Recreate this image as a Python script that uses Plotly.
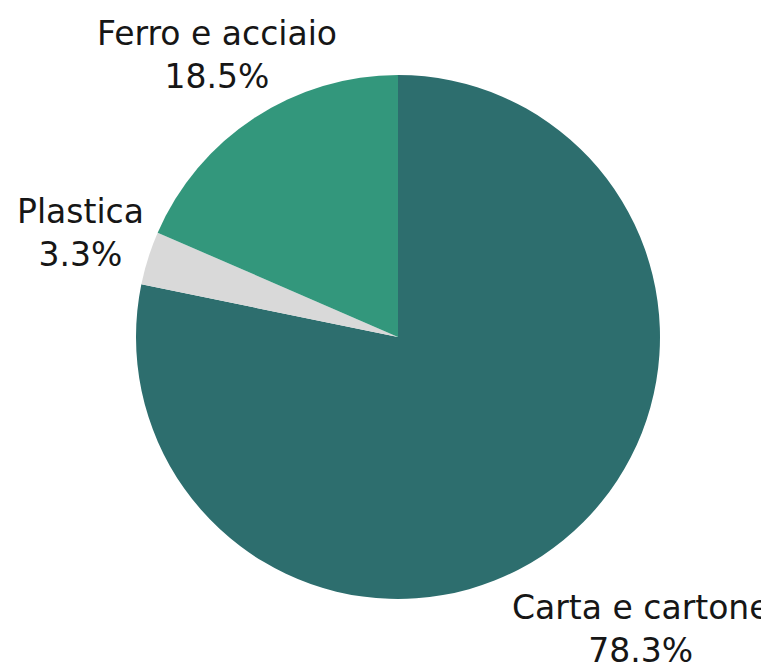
import math
import plotly.graph_objects as go

categories = ["Carta e cartone", "Plastica", "Ferro e acciaio"]
values = [78.3, 3.3, 18.5]
colors = ["#2D6E6E", "#D9D9D9", "#33977C"]

W, H = 769, 664
CX, CY, R = 398, 336, 262          # intended pie centre / radius in pixels
label_dist = [1.455, 1.28, 1.275]  # label distance from centre, in radii
OFF_X, OFF_Y = -6, -10             # small pixel nudge for labels
FONT = dict(size=33, color="#161616", family="DejaVu Sans, sans-serif")

dx, dy = 8, 7  # compensation for plotly's placement
fig = go.Figure(go.Pie(
    labels=categories,
    values=values,
    sort=False,
    direction="clockwise",
    rotation=0,
    marker=dict(colors=colors, line=dict(width=0)),
    textinfo="none",
    hoverinfo="label+value",
    showlegend=False,
    automargin=False,
    domain=dict(x=[(CX - R - dx) / W, (CX + R - dx) / W],
                y=[(H - CY - R + dy) / H, (H - CY + R + dy) / H]),
))

total = sum(values)
cum = 0.0
for lab, v, f in zip(categories, values, label_dist):
    mid = (cum + v / 2) / total * 2 * math.pi
    cum += v
    px = CX + f * R * math.sin(mid) + OFF_X
    py = CY - f * R * math.cos(mid) + OFF_Y
    fig.add_annotation(
        x=px / W, y=1 - py / H, xref="paper", yref="paper",
        text=f"{lab}<br>{v:.1f}%", showarrow=False,
        xanchor="center", yanchor="middle", align="center",
        font=FONT,
    )

fig.update_layout(
    width=W, height=H,
    margin=dict(l=0, r=0, t=0, b=0),
    paper_bgcolor="white",
    plot_bgcolor="white",
)

fig.write_html("out.html")
